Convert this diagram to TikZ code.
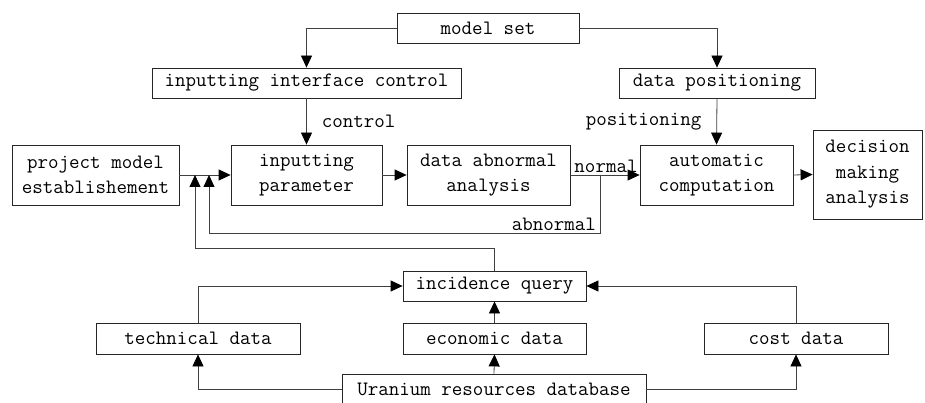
\documentclass[tikz,border=0pt]{standalone}
\usetikzlibrary{arrows.meta}

\begin{document}
\begin{tikzpicture}[
    x=1pt, y=-1pt,
    font=\ttfamily\fontsize{20.4}{25.5}\selectfont,
    box/.style={draw=black!85, line width=0.8pt, align=center, inner sep=0pt, minimum height=30pt},
    tallbox/.style={box, minimum height=60pt},
    arrow/.style={-{Triangle[length=12pt, width=11pt, color=black]}, draw=black!75, line width=0.8pt},
    lbl/.style={inner sep=2pt}
]
\useasboundingbox (0,0) rectangle (925,403);

\node[box, minimum width=182pt] (modelset) at (488,28) {model set};
\node[box, minimum width=309pt] (interface) at (306.5,83) {inputting interface control};
\node[box, minimum width=196pt] (datapos) at (717,83) {data positioning};
\node[tallbox, minimum width=167pt] (project) at (95.5,175) {project model\\establishement};
\node[tallbox, minimum width=151pt] (param) at (306.5,175) {inputting\\parameter};
\node[tallbox, minimum width=163pt] (abnormal) at (488.5,175) {data abnormal\\analysis};
\node[tallbox, minimum width=153pt] (compute) at (716.5,175) {automatic\\computation};
\node[box, minimum width=109pt, minimum height=89pt] (decision) at (867.5,174.5) {decision\\making\\analysis};
\node[box, minimum width=183pt] (query) at (494.5,286) {incidence query};
\node[box, minimum width=204pt, minimum height=31pt] (tech) at (198,338.5) {technical data};
\node[box, minimum width=183pt, minimum height=31pt] (econ) at (494.5,338.5) {economic data};
\node[box, minimum width=184pt, minimum height=31pt] (cost) at (796,338.5) {cost data};
\node[box, minimum width=304pt] (uranium) at (494,389) {Uranium resources database};

\coordinate (split) at (600,175);
\coordinate (back1) at (209,233);
\coordinate (join1) at (209,175);
\coordinate (back2) at (195,248);
\coordinate (join2) at (195,175);

\draw[arrow] (modelset.west) -| (interface.north);
\draw[arrow] (modelset.east) -| (datapos.north);
\draw[arrow] (interface.south) -- node[lbl, right=13pt] (ctrllbl) {control} (param.north);
\draw[arrow] (datapos.south) -- node[lbl, left=13pt] (poslbl) {positioning} (compute.north);
\draw[arrow] (project.east) -- (param.west);
\draw[arrow] (param.east) -- (abnormal.west);
\draw[arrow] (abnormal.east) -- node[lbl, above, xshift=1pt] (normlbl) {normal} (compute.west);
\draw[arrow] (compute.east) -- (decision.west);
\draw[arrow] (split) |- (back1) -- (join1);
\node[lbl, anchor=south east, xshift=-2pt] (abnlbl) at (split |- back1) {abnormal};
\draw[arrow] (query.north) |- (back2) -- (join2);
\draw[arrow] (tech.north) |- (query.west);
\draw[arrow] (cost.north) |- (query.east);
\draw[arrow] (econ.north) -- (query.south);
\draw[arrow] (uranium.north) -- (econ.south);
\draw[arrow] (uranium.west) -| (tech.south);
\draw[arrow] (uranium.east) -| (cost.south);

\end{tikzpicture}
\end{document}
